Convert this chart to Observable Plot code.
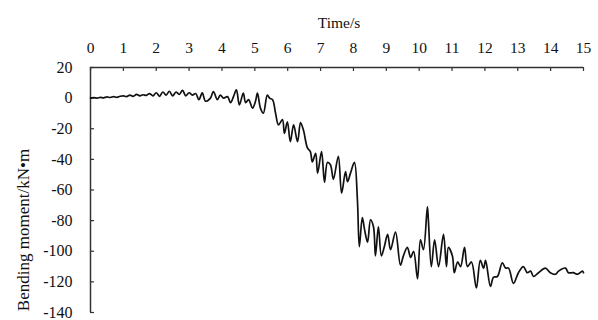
<!DOCTYPE html>
<html>
<head>
<meta charset="utf-8">
<script src="https://cdn.jsdelivr.net/npm/d3@7"></script>
<script src="https://cdn.jsdelivr.net/npm/@observablehq/plot@0.6"></script>
<style>
  html, body { margin: 0; padding: 0; background: #fff; font-family: "Liberation Serif", serif; }
  #chart svg { display: block; }
  #chart svg, #chart svg text { font-family: "Liberation Serif", "Times New Roman", serif !important; }
</style>
</head>
<body>
<div id="chart"></div>
<script>
const xTitle = "Time/s";
const yTitle = "Bending moment/kN\u2022m";
const xTicks = [0,1,2,3,4,5,6,7,8,9,10,11,12,13,14,15];
const yTicks = [20,0,-20,-40,-60,-80,-100,-120,-140];

const time = [
  0,0.1,0.2,0.3,0.4,0.5,0.6,0.7,0.8,0.9,1.0,1.1,1.2,1.3,1.4,1.5,1.6,1.7,1.8,1.9,
  2.0,2.1,2.2,2.3,2.4,2.5,2.6,2.7,2.8,2.9,3.0,3.1,3.2,3.3,3.4,3.5,
  3.65,3.74,3.86,3.95,4.05,4.17,4.26,4.35,4.44,4.53,4.65,4.72,4.81,4.93,5.02,5.08,5.17,5.26,5.38,5.45,5.54,5.63,5.72,5.84,5.90,5.99,
  6.08,6.18,6.30,6.39,6.48,6.60,6.69,6.75,6.85,6.91,7.03,7.12,7.21,7.30,7.39,7.54,7.64,7.76,7.82,7.91,8.03,8.12,
  8.18,8.27,8.34,8.43,8.52,8.61,8.67,8.76,8.85,8.94,9.04,9.13,9.28,9.43,9.52,9.64,9.74,9.83,9.95,10.04,10.13,10.25,10.28,
  10.37,10.47,10.59,10.74,10.83,10.89,11.01,11.07,11.17,11.26,11.38,11.47,11.59,11.74,11.86,11.96,12.02,12.17,12.26,12.38,
  12.53,12.63,12.72,12.87,13.02,13.17,13.29,13.39,13.48,13.63,13.84,13.99,14.15,14.24,14.45,14.54,14.69,14.82,14.97,15.0
];
const moment = [
  0,0.3,0,0.5,0.2,0.8,0.4,1,0.5,1.2,1.5,1,2,1.2,2.5,1.5,2.2,1.8,3,1.5,
  3.5,1.2,4,2,4.5,1.5,4,2.5,5,1.5,3.5,2,3,-1,3.5,-2,
  0,4.3,-1,2,0,1,-3,1,5.4,-4.4,3.3,-3,-1,-6.5,-2,3.3,-6.5,-9.8,2,0,-1,-9.8,-17.5,-14,-23,-15.5,
  -28.5,-17.5,-28.5,-16,-21,-32.5,-35,-41.6,-36,-49,-35,-55,-42,-43.5,-53,-38,-62,-48,-54.6,-49,-42,-66,
  -97,-78,-86,-94,-79.5,-84,-103,-84,-103,-97,-89,-99,-87.5,-109,-103,-97.5,-104,-100,-118,-92.5,-99,-71,-79.5,
  -110,-92.5,-110,-89,-110,-97.5,-103,-114,-107,-110,-97.5,-110,-107,-124,-106,-111,-106,-123,-117,-116.5,
  -107.5,-111,-111,-121,-114,-110,-114,-113,-116.5,-114,-111,-114,-115,-113,-111,-114,-114,-115,-113,-114
];

const data = time.map((t, i) => ({t, v: moment[i]}));
const font = "Liberation Serif";

const chart = Plot.plot({
  width: 598,
  height: 320,
  marginLeft: 90,
  marginRight: 15,
  marginTop: 67,
  marginBottom: 8,
  style: {fontFamily: font, fontSize: "15.5px", background: "#fff", color: "#111"},
  x: {domain: [0, 15]},
  y: {domain: [-140, 20]},
  marks: [
    Plot.axisX(xTicks, {anchor: "top", tickSize: 0, tickPadding: 15, label: null, fontSize: 15.5, fontFamily: font}),
    Plot.axisY(yTicks, {anchor: "left", tickSize: 0, tickPadding: 18, label: null, fontSize: 16, fontFamily: font, tickFormat: d => String(d)}),
    Plot.tickX(xTicks, {x: d => d, insetBottom: 241, stroke: "#333", strokeWidth: 1.2}),
    Plot.tickY(yTicks, {y: d => d, insetRight: 489, stroke: "#333", strokeWidth: 1.2}),
    Plot.ruleY([20], {stroke: "#333", strokeWidth: 1.5}),
    Plot.ruleX([0], {stroke: "#333", strokeWidth: 1.5}),
    Plot.line(data, {x: "t", y: "v", stroke: "#111", strokeWidth: 1.7, strokeLinejoin: "round", curve: "catmull-rom"}),
    Plot.text([xTitle], {frameAnchor: "top", dy: -51, dx: 2, textAnchor: "middle", text: d => d, fontSize: 15.5, fontFamily: font, fill: "#111"}),
    Plot.text([yTitle], {frameAnchor: "left", rotate: -90, dx: -67, dy: 40, textAnchor: "middle", text: d => d, fontSize: 17, fontFamily: font, fill: "#111"})
  ]
});
document.getElementById("chart").appendChild(chart);
</script>
</body>
</html>
